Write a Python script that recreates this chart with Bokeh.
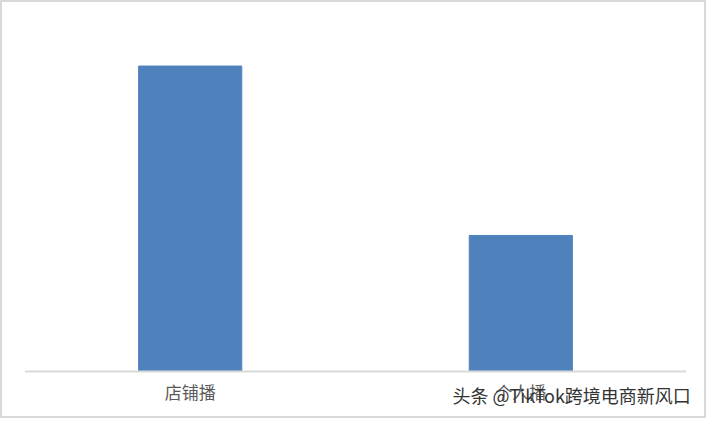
from bokeh.plotting import figure
from bokeh.models import Range1d, Label, ColumnDataSource
from bokeh.embed import file_html
from bokeh.resources import INLINE

categories = ["店铺播", "个人播"]
values = [85.1, 37.9]
watermark = "头条 @TikTok跨境电商新风口"

src = ColumnDataSource(data=dict(cat=categories, val=values, zero=[0] * len(categories)))

p = figure(x_range=categories, y_range=Range1d(-13.65, 102.8), width=706, height=418,
           output_backend="svg", toolbar_location=None, min_border=0)
p.x_range.range_padding = 0.0677
p.x_range.range_padding_units = "absolute"
p.vbar(x="cat", top="val", width=0.312, color="#4f81bd", source=src)
# baseline spanning the category band
p.segment(x0=[0], y0=[0], x1=[len(categories)], y1=[0], line_color="#d9d9d9", line_width=2)
# category labels
p.text(x="cat", y="zero", text="cat", source=src, text_align="center", text_baseline="top",
       y_offset=7, text_font_size="17px", text_color="#595959", text_font={"value": "Noto Sans CJK SC"})
p.axis.visible = False
p.xgrid.visible = False
p.ygrid.visible = False
p.outline_line_color = None
p.styles = {"border": "2px solid #d9d9d9", "box-sizing": "border-box"}

lab = Label(x=450, y=13, x_units="screen", y_units="screen", text=watermark,
            text_font="Noto Sans CJK SC", text_font_size="18px", text_color="#333333")
p.add_layout(lab)

open("out.html", "w").write(file_html(p, INLINE))
